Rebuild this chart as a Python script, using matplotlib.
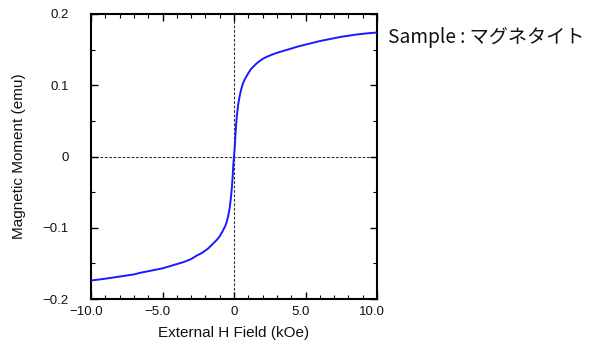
import matplotlib
matplotlib.use("Agg")
import matplotlib.pyplot as plt
import matplotlib.transforms as mtransforms
from matplotlib.ticker import MultipleLocator, FixedLocator, FixedFormatter

# Data (H in kOe, moment in emu)
field_koe = [-10, -9.5, -9, -8.5, -8, -7.5, -7, -6.5, -6, -5.5, -5, -4.5, -4,
             -3.5, -3, -2.6, -2.3, -2.0, -1.8, -1.6, -1.4, -1.2, -1.0, -0.8,
             -0.7, -0.6, -0.5, -0.4, -0.3, -0.2, -0.15, -0.1, -0.05, 0,
             0.05, 0.1, 0.15, 0.2, 0.3, 0.4, 0.5, 0.6, 0.7, 0.8, 1.0, 1.2,
             1.4, 1.6, 1.8, 2.0, 2.3, 2.6, 3.0, 3.5, 4.0, 4.5, 5.0, 5.5, 6.0,
             6.5, 7.0, 7.5, 8.0, 8.5, 9.0, 9.5, 10]
moment_emu = [-0.174, -0.1728, -0.1715, -0.170, -0.1685, -0.167, -0.1655,
              -0.163, -0.161, -0.159, -0.157, -0.154, -0.151, -0.148, -0.144,
              -0.139, -0.136, -0.132, -0.129, -0.125, -0.121, -0.117, -0.112,
              -0.105, -0.101, -0.097, -0.091, -0.083, -0.072, -0.055, -0.044,
              -0.030, -0.012, 0.0,
              0.012, 0.030, 0.045, 0.057, 0.074, 0.085, 0.094, 0.101, 0.106,
              0.110, 0.117, 0.123, 0.127, 0.131, 0.134, 0.137, 0.140, 0.1425,
              0.1455, 0.1485, 0.1515, 0.1545, 0.157, 0.1595, 0.162, 0.164,
              0.166, 0.168, 0.1695, 0.171, 0.1722, 0.1732, 0.174]

x_ticks = [-10, -5, 0, 5, 10]
x_tick_labels = ["\u221210.0", "\u22125.0", "0", "5.0", "10.0"]
y_ticks = [-0.2, -0.1, 0, 0.1, 0.2]
y_tick_labels = ["\u22120.2", "\u22120.1", "0", "0.1", "0.2"]

x_label = "External H Field (kOe)"
y_label = "Magnetic Moment (emu)"
sample_text = "Sample : マグネタイト"

fig = plt.figure(figsize=(6.11, 3.45), dpi=100)
ax = fig.add_axes([91/611, 46/345, 286/611, 285/345])

ax.axhline(0, color="#333333", lw=0.8, ls=(0, (2.5, 1.5)), zorder=1)
ax.axvline(0, color="#333333", lw=0.8, ls=(0, (2.5, 1.5)), zorder=1)
ax.plot(field_koe, moment_emu, color="#1a1aff", lw=1.4, zorder=3,
        solid_joinstyle="round")

ax.set_xlim(-10, 10)
ax.set_ylim(-0.2, 0.2)

ax.xaxis.set_major_locator(FixedLocator(x_ticks))
ax.xaxis.set_major_formatter(FixedFormatter(x_tick_labels))
ax.yaxis.set_major_locator(FixedLocator(y_ticks))
ax.yaxis.set_major_formatter(FixedFormatter(y_tick_labels))
ax.xaxis.set_minor_locator(MultipleLocator(1))
ax.yaxis.set_minor_locator(MultipleLocator(0.05))

tick_font = "Liberation Sans"
ax.tick_params(which="both", direction="in", top=True, right=True, color="black")
ax.tick_params(which="major", length=5, width=1.0)
ax.tick_params(which="minor", length=3, width=0.8)
ax.tick_params(axis="y", which="major", pad=16)
ax.tick_params(axis="x", which="major", pad=5)
shift = mtransforms.ScaledTranslation(-5/100, 0, fig.dpi_scale_trans)
for lab in ax.get_xticklabels() + ax.get_yticklabels():
    lab.set_fontfamily(tick_font)
    lab.set_fontsize(9.5)
    lab.set_color("#111111")
for lab, txt in zip(ax.get_xticklabels(), x_tick_labels):
    if txt != "0":
        lab.set_transform(lab.get_transform() + shift)

for sp in ax.spines.values():
    sp.set_linewidth(1.5)

ax.set_xlabel(x_label, fontfamily=tick_font, fontsize=11, labelpad=6,
              color="#111111")
ax.set_ylabel(y_label, fontfamily=tick_font, fontsize=11, labelpad=12,
              color="#111111")

fig.text(388/611, 1 - 37/345, sample_text, fontsize=13.8,
         family=["Noto Sans CJK JP", "DejaVu Sans"], va="center", ha="left",
         color="#111111")

fig.savefig("out.png", dpi=100)
